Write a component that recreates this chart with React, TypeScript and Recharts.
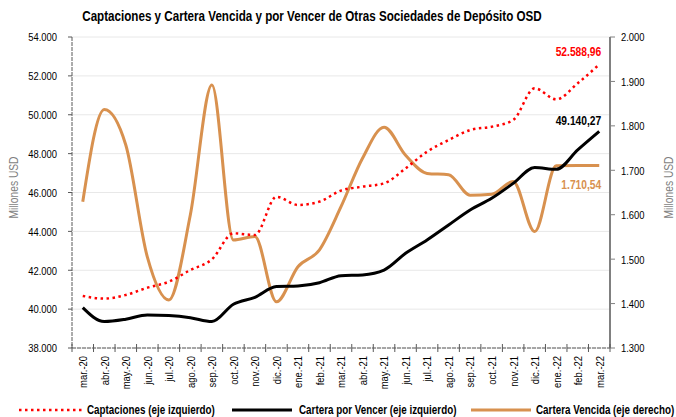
import { LineChart, Line, XAxis, YAxis, CartesianGrid, LabelList } from 'recharts';

// no narrow font installed: squeeze Liberation Sans horizontally instead
const FONT = "'Liberation Sans', Arial, sans-serif";
const SX = 0.82;

const months = [
  'mar.-20', 'abr.-20', 'may.-20', 'jun.-20', 'jul.-20', 'ago.-20', 'sep.-20', 'oct.-20', 'nov.-20',
  'dic.-20', 'ene.-21', 'feb.-21', 'mar.-21', 'abr.-21', 'may.-21', 'jun.-21', 'jul.-21', 'ago.-21',
  'sep.-21', 'oct.-21', 'nov.-21', 'dic.-21', 'ene.-22', 'feb.-22', 'mar.-22',
];

// eje izquierdo
const captaciones = [
  40680, 40540, 40730, 41100, 41410, 42010, 42560, 43900, 43810, 45780, 45360, 45530, 46100,
  46300, 46470, 47240, 48100, 48700, 49215, 49385, 49730, 51360, 50790, 51620, 52588.96,
];
const carteraPorVencer = [
  40080, 39360, 39480, 39700, 39670, 39560, 39360, 40250, 40610, 41160, 41190, 41360, 41720,
  41760, 42010, 42870, 43560, 44330, 45100, 45700, 46470, 47290, 47190, 48190, 49140.27,
];
// eje derecho
const carteraVencida = [
  1629, 1837, 1757, 1505, 1408, 1600, 1892, 1543, 1551, 1404, 1483, 1521, 1618,
  1727, 1797, 1734, 1693, 1690, 1644, 1646, 1675, 1562, 1710, 1711, 1710.54,
];

const leftTicks = [38000, 40000, 42000, 44000, 46000, 48000, 50000, 52000, 54000];
const rightTicks = [1300, 1400, 1500, 1600, 1700, 1800, 1900, 2000];

const data = months.map((month, i) => ({
  month,
  captaciones: captaciones[i],
  porVencer: carteraPorVencer[i],
  vencida: carteraVencida[i],
}));

const W = 676;
const H = 417;
const LEFT_W = 72;
const RIGHT_W = 66;
const HALF_BAND = (W - LEFT_W - RIGHT_W) / months.length / 2;

const RED = '#ff0000';
const ORANGE = '#d8914f';

const thousands = (v: number) => String(Math.round(v)).replace(/\B(?=(\d{3})+(?!\d))/g, '.');
const decimal = (v: number) => {
  const [int, dec] = v.toFixed(2).split('.');
  return `${thousands(Number(int))},${dec}`;
};

const NText = ({ x, y, angle = 0, anchor = 'start', size = 11, bold = false, fill = '#000', middle = false, children }: any) => (
  <text
    transform={`translate(${x} ${y}) rotate(${angle}) scale(${SX} 1)`}
    textAnchor={anchor}
    dominantBaseline={middle ? 'central' : 'auto'}
    fontSize={size}
    fontWeight={bold ? 'bold' : 'normal'}
    fontFamily={FONT}
    fill={fill}
  >
    {children}
  </text>
);

const XTick = (props: any) => {
  const { x, y, payload, index } = props;
  return (
    <g>
      <line x1={x - HALF_BAND} x2={x - HALF_BAND} y1={y - 4} y2={y + 4} stroke="#595959" />
      {index === months.length - 1 && (
        <line x1={x + HALF_BAND} x2={x + HALF_BAND} y1={y - 4} y2={y + 4} stroke="#595959" />
      )}
      <NText x={x} y={y + 8} angle={-90} anchor="end" size={11.5} middle>
        {payload.value}
      </NText>
    </g>
  );
};

const YTick = (props: any) => (
  <NText x={props.x} y={props.y} anchor={props.textAnchor} size={11.5} middle>
    {thousands(props.payload.value)}
  </NText>
);

const AxisTitle = (props: any) => {
  const { viewBox, side } = props;
  const cx = side === 'left' ? viewBox.x + 14 : viewBox.x + viewBox.width - 7;
  const cy = viewBox.y + viewBox.height / 2 - 5;
  return (
    <NText x={cx} y={cy} angle={-90} anchor="middle" size={12.5} fill="#7f7f7f" middle>
      Millones  USD
    </NText>
  );
};

const lastLabel = (color: string, dy: number) => (props: any) => {
  const { x, y, index, value } = props;
  if (index !== months.length - 1) return null;
  return (
    <NText x={x + 2} y={y + dy} anchor="end" size={12.5} bold fill={color}>
      {decimal(value)}
    </NText>
  );
};

export default function App() {
  return (
    <div style={{ position: 'absolute', left: 0, top: 0, width: W, height: H, background: '#fff' }}>
      <LineChart width={W} height={H} data={data} margin={{ top: 37, right: 0, bottom: 21, left: 0 }}>
        <CartesianGrid yAxisId="left" vertical={false} stroke="#e8e8e8" />
        <XAxis
          dataKey="month"
          interval={0}
          height={48}
          tickLine={false}
          tickSize={0}
          tickMargin={0}
          padding={{ left: HALF_BAND, right: HALF_BAND }}
          axisLine={{ stroke: '#595959', strokeDasharray: '4 1' }}
          tick={<XTick />}
        />
        <YAxis
          yAxisId="left"
          width={LEFT_W}
          domain={[38000, 54000]}
          ticks={leftTicks}
          tickSize={4}
          tickMargin={11}
          axisLine={{ stroke: '#595959', strokeDasharray: '4 1' }}
          tickLine={{ stroke: '#595959' }}
          tick={<YTick />}
          label={<AxisTitle side="left" />}
        />
        <YAxis
          yAxisId="right"
          orientation="right"
          width={RIGHT_W}
          domain={[1300, 2000]}
          ticks={rightTicks}
          tickSize={5}
          tickMargin={6}
          axisLine={{ stroke: '#808080', strokeWidth: 2 }}
          tickLine={{ stroke: '#808080' }}
          tick={<YTick />}
          label={<AxisTitle side="right" />}
        />
        <Line
          yAxisId="right"
          type="monotone"
          dataKey="vencida"
          stroke={ORANGE}
          strokeWidth={3}
          dot={false}
          isAnimationActive={false}
        >
          <LabelList dataKey="vencida" content={lastLabel(ORANGE, 23)} />
        </Line>
        <Line
          yAxisId="left"
          type="monotone"
          dataKey="porVencer"
          stroke="#000"
          strokeWidth={3}
          dot={false}
          isAnimationActive={false}
        >
          <LabelList dataKey="porVencer" content={lastLabel('#000', -6)} />
        </Line>
        <Line
          yAxisId="left"
          type="monotone"
          dataKey="captaciones"
          stroke={RED}
          strokeWidth={2.5}
          strokeDasharray="2.5 3.5"
          dot={false}
          isAnimationActive={false}
        >
          <LabelList dataKey="captaciones" content={lastLabel(RED, -8)} />
        </Line>
      </LineChart>

      <svg width={W} height={H} style={{ position: 'absolute', left: 0, top: 0, pointerEvents: 'none' }}>
        <NText x={312} y={21} anchor="middle" size={14.2} bold>
          Captaciones y Cartera Vencida y por Vencer de Otras Sociedades de Depósito OSD
        </NText>
        <line x1={19} x2={82} y1={410} y2={410} stroke={RED} strokeWidth={2.5} strokeDasharray="2.5 3.5" />
        <NText x={87} y={414} size={12} bold>Captaciones (eje izquierdo)</NText>
        <line x1={232} x2={292} y1={410} y2={410} stroke="#000" strokeWidth={3} />
        <NText x={299} y={414} size={12} bold>Cartera por Vencer (eje izquierdo)</NText>
        <line x1={471} x2={531} y1={410} y2={410} stroke={ORANGE} strokeWidth={3} />
        <NText x={536} y={414} size={12} bold>Cartera Vencida (eje derecho)</NText>
      </svg>
    </div>
  );
}
